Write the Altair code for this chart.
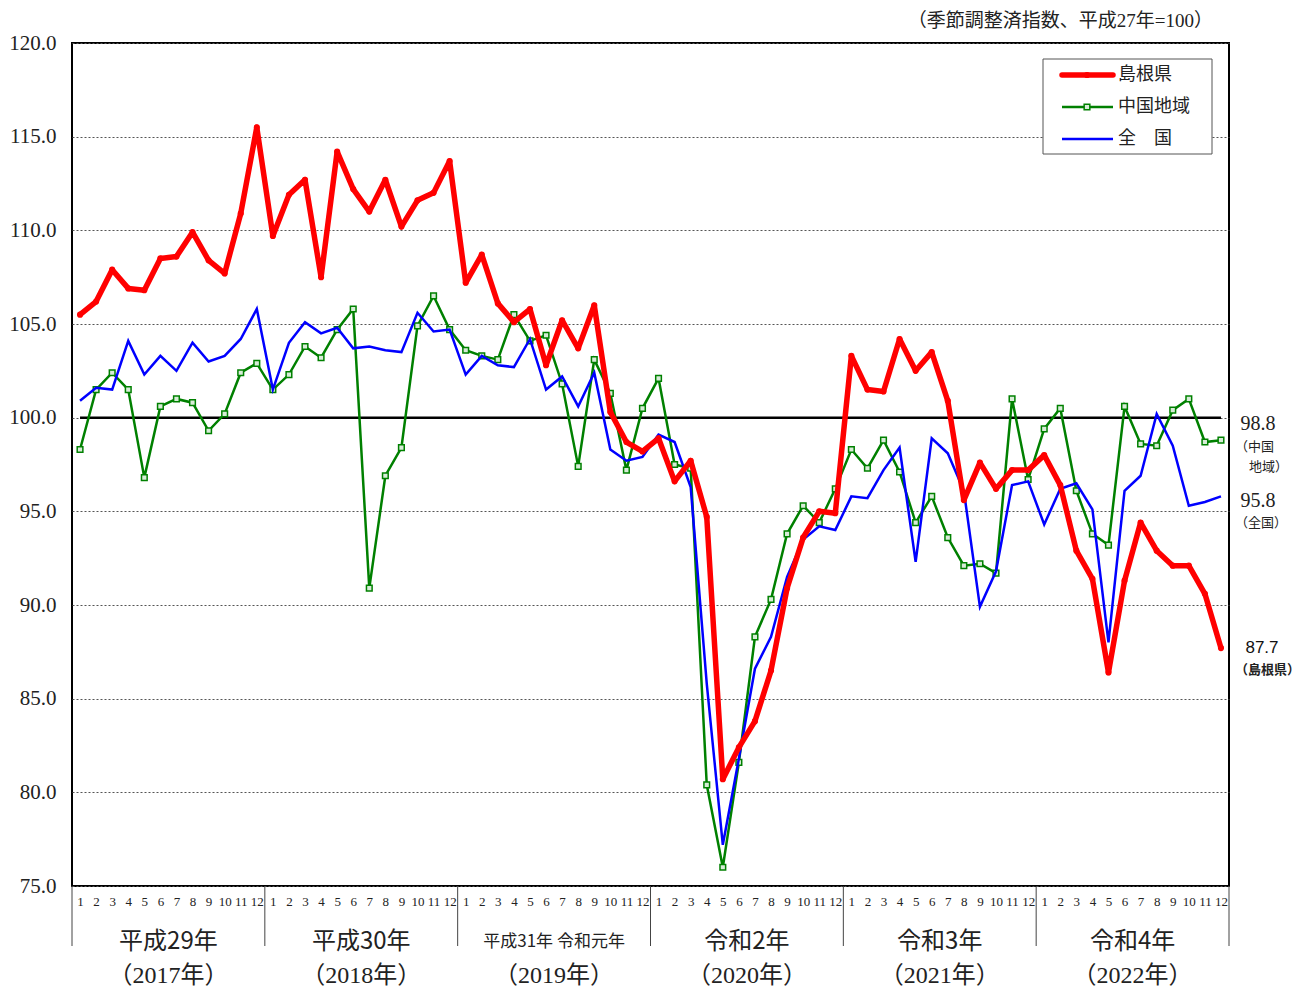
import altair as alt
import pandas as pd

# ---------------- data ----------------
years = ["2017", "2018", "2019", "2020", "2021", "2022"]
era_labels = ["平成29年", "平成30年", "平成31年  令和元年", "令和2年", "令和3年", "令和4年"]
west_labels = ["（2017年）", "（2018年）", "（2019年）", "（2020年）", "（2021年）", "（2022年）"]
y_ticks = [75, 80, 85, 90, 95, 100, 105, 110, 115, 120]
series_names = ["島根県", "中国地域", "全\u3000国"]

shimane = [
    105.5, 106.2, 107.9, 106.9, 106.8, 108.5, 108.6, 109.9, 108.4, 107.7, 110.9, 115.5,
    109.7, 111.9, 112.7, 107.5, 114.2, 112.2, 111.0, 112.7, 110.2, 111.6, 112.0, 113.7,
    107.2, 108.7, 106.1, 105.1, 105.8, 102.8, 105.2, 103.7, 106.0, 100.3, 98.7, 98.2,
    98.9, 96.6, 97.7, 94.7, 80.7, 82.4, 83.8, 86.5, 90.9, 93.6, 95.0, 94.9,
    103.3, 101.5, 101.4, 104.2, 102.5, 103.5, 100.9, 95.6, 97.6, 96.2, 97.2, 97.2,
    98.0, 96.4, 92.9, 91.4, 86.4, 91.3, 94.4, 92.9, 92.1, 92.1, 90.6, 87.7]

chugoku = [
    98.3, 101.5, 102.4, 101.5, 96.8, 100.6, 101.0, 100.8, 99.3, 100.2, 102.4, 102.9,
    101.5, 102.3, 103.8, 103.2, 104.7, 105.8, 90.9, 96.9, 98.4, 104.9, 106.5, 104.7,
    103.6, 103.3, 103.1, 105.5, 104.1, 104.4, 101.8, 97.4, 103.1, 101.3, 97.2, 100.5,
    102.1, 97.5, 97.3, 80.4, 76.0, 81.6, 88.3, 90.3, 93.8, 95.3, 94.4, 96.2,
    98.3, 97.3, 98.8, 97.1, 94.4, 95.8, 93.6, 92.1, 92.2, 91.7, 101.0, 96.7,
    99.4, 100.5, 96.1, 93.8, 93.2, 100.6, 98.6, 98.5, 100.4, 101.0, 98.7, 98.8]

zenkoku = [
    100.9, 101.6, 101.5, 104.1, 102.3, 103.3, 102.5, 104.0, 103.0, 103.3, 104.2, 105.8,
    101.5, 104.0, 105.1, 104.5, 104.8, 103.7, 103.8, 103.6, 103.5, 105.6, 104.6, 104.7,
    102.3, 103.3, 102.8, 102.7, 104.2, 101.5, 102.2, 100.6, 102.4, 98.3, 97.7, 97.9,
    99.1, 98.7, 96.3, 85.8, 77.2, 81.8, 86.6, 88.3, 91.5, 93.5, 94.2, 94.0,
    95.8, 95.7, 97.2, 98.4, 92.3, 98.9, 98.1, 96.1, 89.9, 91.8, 96.4, 96.6,
    94.3, 96.2, 96.5, 95.1, 88.0, 96.1, 96.9, 100.2, 98.5, 95.3, 95.5, 95.8]

# ---------------- style ----------------
SERIF = "Liberation Serif, 'Noto Sans CJK JP', serif"
CJK = "'Noto Sans CJK JP', sans-serif"
W, H = 1157, 843
RED, GREEN, BLUE = "#ff0000", "#008000", "#0000ff"

n = len(shimane)
idx = [i + 0.5 for i in range(n)]
df = pd.DataFrame({
    "idx": idx * 3,
    "value": shimane + chugoku + zenkoku,
    "series": ["s"] * n + ["c"] * n + ["z"] * n,
})

xscale = alt.Scale(domain=[0, n], nice=False, zero=False)
yscale = alt.Scale(domain=[75, 120], nice=False, zero=False)

x_axis = alt.Axis(values=idx, labelExpr="(round(datum.value - 0.5) % 12) + 1",
                  ticks=False, domain=False, grid=False, labelFont=SERIF,
                  labelFontSize=13, labelPadding=9, labelColor="#222", title=None,
                  labelOverlap=False, labelBound=False, labelFlush=False)
y_axis = alt.Axis(values=y_ticks, format=".1f", ticks=False, domain=False, grid=True,
                  gridDash=[2, 2], gridColor="#555", gridWidth=1, labelFont=SERIF,
                  labelFontSize=21, labelPadding=16, labelColor="#222", title=None)


def X(field):
    return alt.X(field, scale=xscale, axis=x_axis)


def Y(field):
    return alt.Y(field, scale=yscale, axis=y_axis)


base = alt.Chart(df)

# reference line at 100
ref = alt.Chart(pd.DataFrame({"idx": [idx[0]], "x2": [idx[-1]], "value": [100]})).mark_rule(
    color="black", strokeWidth=2.5).encode(x=X("idx:Q"), x2="x2:Q", y=Y("value:Q"))

green_line = base.transform_filter(alt.datum.series == "c").mark_line(
    color=GREEN, strokeWidth=2.5).encode(x=X("idx:Q"), y=Y("value:Q"))
green_pts = base.transform_filter(alt.datum.series == "c").mark_point(
    shape="square", size=32, filled=False, color=GREEN, strokeWidth=1.5, opacity=1,
    fill="#d8ecd8", fillOpacity=1).encode(x=X("idx:Q"), y=Y("value:Q"))
blue_line = base.transform_filter(alt.datum.series == "z").mark_line(
    color=BLUE, strokeWidth=2.5).encode(x=X("idx:Q"), y=Y("value:Q"))
red_line = base.transform_filter(alt.datum.series == "s").mark_line(
    color=RED, strokeWidth=5.5, strokeJoin="round").encode(x=X("idx:Q"), y=Y("value:Q"))
red_pts = base.transform_filter(alt.datum.series == "s").mark_circle(
    color=RED, size=38, opacity=1).encode(x=X("idx:Q"), y=Y("value:Q"))

# year separators below the axis
sep_df = pd.DataFrame({"idx": [12 * i for i in range(len(years) + 1)]})
seps = alt.Chart(sep_df).mark_rule(color="#444", strokeWidth=1).encode(
    x=X("idx:Q"), y=alt.value(H), y2=alt.value(H + 60))

year_df = pd.DataFrame({"idx": [12 * i + 6 for i in range(len(years))],
                        "year": years, "era": era_labels, "west": west_labels})
era_text = alt.Chart(year_df).mark_text(font=CJK, color="#222", baseline="middle").encode(
    x=X("idx:Q"), y=alt.value(H + 56), text="era:N",
    size=alt.condition(alt.datum.year == "2019", alt.value(17), alt.value(24)))
west_text = alt.Chart(year_df).mark_text(font=SERIF, fontSize=24, color="#222",
                                         baseline="middle").encode(
    x=X("idx:Q"), y=alt.value(H + 90), text="west:N")

# top note
note = alt.Chart(pd.DataFrame({"t": ["（季節調整済指数、平成27年=100）"]})).mark_text(
    font=SERIF, fontSize=19, align="right", baseline="middle", color="#222").encode(
    x=alt.value(1141), y=alt.value(-22), text="t:N")

# right-side end labels
end_df = pd.DataFrame({"t": [f"{chugoku[-1]:.1f}", f"{zenkoku[-1]:.1f}", f"{shimane[-1]:.1f}"]})
end_c = alt.Chart(end_df.iloc[[0]]).mark_text(font=SERIF, fontSize=20, color="#222",
                                               align="center", baseline="middle").encode(
    x=alt.value(1186), y=alt.value(381), text="t:N")
end_z = alt.Chart(end_df.iloc[[1]]).mark_text(font=SERIF, fontSize=20, color="#222",
                                               align="center", baseline="middle").encode(
    x=alt.value(1186), y=alt.value(458), text="t:N")
end_s = alt.Chart(end_df.iloc[[2]]).mark_text(
    font="Liberation Sans, sans-serif", fontSize=17, color="#111", align="center",
    baseline="middle").encode(x=alt.value(1190), y=alt.value(605), text="t:N")

sub_df = pd.DataFrame({"t": ["（中国", "地域）", "（全国）", "（島根県）"]})
sub_layers = []
sub_pos = [(1163, 404), (1177, 424), (1163, 480), (1163, 627)]
for k, (px, py) in enumerate(sub_pos):
    sub_layers.append(
        alt.Chart(sub_df.iloc[[k]]).mark_text(
            font=CJK, fontSize=13, color="#222", align="left", baseline="middle",
            fontWeight="bold" if k == 3 else "normal").encode(
            x=alt.value(px), y=alt.value(py), text="t:N"))

# legend box (manual)
leg_df = pd.DataFrame({"name": series_names})
leg_box = alt.Chart(leg_df.iloc[[0]]).mark_rect(fill="white", stroke="#555", strokeWidth=1).encode(
    x=alt.value(971), x2=alt.value(1140), y=alt.value(16), y2=alt.value(111))
leg_layers = [leg_box]
leg_y = [32, 64, 96]
leg_col = [RED, GREEN, BLUE]
leg_w = [5.5, 2.5, 2.5]
for k in range(3):
    row = leg_df.iloc[[k]]
    leg_layers.append(alt.Chart(row).mark_rule(color=leg_col[k], strokeWidth=leg_w[k],
                                               strokeCap="round" if k == 0 else "butt").encode(
        x=alt.value(990), x2=alt.value(1041), y=alt.value(leg_y[k])))
    leg_layers.append(alt.Chart(row).mark_text(font=CJK, fontSize=18, color="#222",
                                               align="left", baseline="middle").encode(
        x=alt.value(1046), y=alt.value(leg_y[k]), text="name:N"))
leg_layers.append(alt.Chart(leg_df.iloc[[0]]).mark_circle(color=RED, size=38, opacity=1).encode(
    x=alt.value(1015), y=alt.value(leg_y[0])))
leg_layers.append(alt.Chart(leg_df.iloc[[1]]).mark_point(
    shape="square", size=32, filled=False, color=GREEN, strokeWidth=1.5, opacity=1,
    fill="#d8ecd8", fillOpacity=1).encode(x=alt.value(1015), y=alt.value(leg_y[1])))

chart = alt.layer(
    ref, green_line, green_pts, blue_line, red_line, red_pts,
    seps, era_text, west_text, note, end_c, end_z, end_s, *sub_layers, *leg_layers
).properties(
    width=W, height=H,
    padding={"left": 64, "top": 35, "right": 70, "bottom": 102},
    autosize=alt.AutoSizeParams(type="none"),
    background="white",
).configure_view(stroke="black", strokeWidth=2)

chart.save("out.html", embed_options={"renderer": "svg", "actions": False})
